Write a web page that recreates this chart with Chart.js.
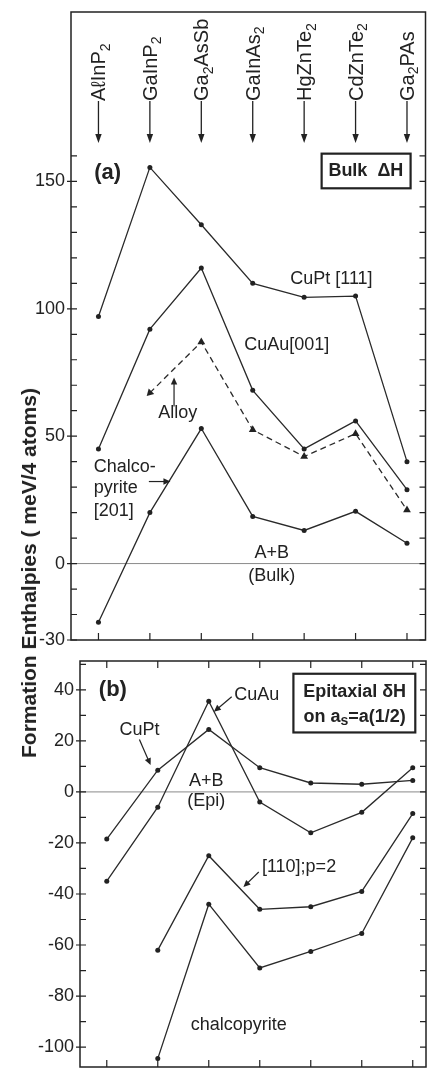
<!DOCTYPE html>
<html>
<head>
<meta charset="utf-8">
<script src="https://cdn.jsdelivr.net/npm/chart.js@4"></script>
<style>
  html, body { margin: 0; padding: 0; background: #fff; }
  #wrap { position: relative; width: 430px; height: 1071px; overflow: hidden; }
  #chartA { position: absolute; left: 0; top: 0; }
  #chartB { position: absolute; left: 0; top: 645px; }
  #ytitle {
    position: absolute; left: 29px; top: 573px;
    transform: translate(-50%, -50%) rotate(-90deg);
    white-space: nowrap; color: #222;
    font: bold 21px 'Liberation Sans', Arial, sans-serif;
  }
</style>
</head>
<body>
<div id="wrap">
  <canvas id="chartA" width="430" height="655"></canvas>
  <canvas id="chartB" width="430" height="426"></canvas>
  <div id="ytitle">Formation Enthalpies ( meV/4 atoms)</div>
</div>
<script>
// compounds along the x axis (digits are drawn as subscripts)
const compounds = ['AℓInP2', 'GaInP2', 'Ga2AsSb', 'GaInAs2', 'HgZnTe2', 'CdZnTe2', 'Ga2PAs'];

// (a) bulk formation enthalpies, meV / 4 atoms
const bulkCuPt = [97, 155.5, 133, 110, 104.5, 105, 40];
const bulkCuAu = [45, 92, 116, 68, 45, 56, 29];
const bulkAlloy = [null, 67, 87, 52.5, 42, 51, 21];
const bulkChalco = [-23, 20, 53, 18.5, 13, 20.5, 8];
const yLabelsA = [-30, 0, 50, 100, 150];

// (b) epitaxial formation enthalpies
const epiCuPt = [-18.5, 8.5, 24.5, 9.5, 3.5, 3, 4.5];
const epiCuAu = [-35, -6, 35.5, -4, -16, -8, 9.5];
const epi110 = [null, -62, -25, -46, -45, -39, -8.5];
const epiChalco = [null, -104.5, -44, -69, -62.5, -55.5, -18];
const yLabelsB = [-100, -80, -60, -40, -20, 0, 20, 40];

const FONT = "'Liberation Sans', Arial, sans-serif";
const INK = '#222';

const pts = arr => arr.map((v, i) => v === null ? null : { x: i, y: v }).filter(p => p);

function series(values, label, extra) {
    return Object.assign({
        label: label,
        data: pts(values),
        borderColor: '#2a2a2a',
        backgroundColor: '#222',
        borderWidth: 1.3,
        pointRadius: 2.5,
        pointBorderWidth: 0,
        tension: 0
    }, extra || {});
}

// split "Ga2AsSb" into runs, digits become subscripts
function runs(str) {
    return str.match(/\d+|\D+/g).map(s => [s, /\d/.test(s)]);
}

function drawRich(ctx, parts, x, y, size, align) {
    const main = `${size}px ${FONT}`;
    const sub = `${Math.round(size * 0.7)}px ${FONT}`;
    let w = 0;
    parts.forEach(([t, s]) => { ctx.font = s ? sub : main; w += ctx.measureText(t).width; });
    let cx = align === 'center' ? x - w / 2 : x;
    ctx.textAlign = 'left';
    ctx.textBaseline = 'alphabetic';
    parts.forEach(([t, s]) => {
        ctx.font = s ? sub : main;
        ctx.fillText(t, cx, s ? y + size * 0.22 : y);
        cx += ctx.measureText(t).width;
    });
}

function arrow(ctx, x1, y1, x2, y2, head) {
    const h = head || 7;
    const ang = Math.atan2(y2 - y1, x2 - x1);
    ctx.beginPath(); ctx.moveTo(x1, y1); ctx.lineTo(x2 - Math.cos(ang) * h * 0.8, y2 - Math.sin(ang) * h * 0.8); ctx.stroke();
    ctx.beginPath();
    ctx.moveTo(x2, y2);
    ctx.lineTo(x2 - h * Math.cos(ang) + 3.2 * Math.sin(ang), y2 - h * Math.sin(ang) - 3.2 * Math.cos(ang));
    ctx.lineTo(x2 - h * Math.cos(ang) - 3.2 * Math.sin(ang), y2 - h * Math.sin(ang) + 3.2 * Math.cos(ang));
    ctx.closePath(); ctx.fill();
}

// notes are placed in data coordinates
const notesA = [
    { t: 'text', x: 4.53, y: 111.7, s: 'CuPt [111]', size: 18 },
    { t: 'text', x: 3.66, y: 85.9, s: 'CuAu[001]', size: 18 },
    { t: 'text', x: 1.54, y: 59, s: 'Alloy', size: 18 },
    { t: 'arrow', x1: 1.47, y1: 61.7, x2: 1.47, y2: 73 },
    { t: 'text', x: -0.09, y: 37.9, s: 'Chalco-', size: 18, align: 'left' },
    { t: 'text', x: -0.09, y: 29.7, s: 'pyrite', size: 18, align: 'left' },
    { t: 'text', x: -0.09, y: 20.7, s: '[201]', size: 18, align: 'left' },
    { t: 'arrow', x1: 0.98, y1: 32.2, x2: 1.40, y2: 32.2 },
    { t: 'text', x: 3.37, y: 4.3, s: 'A+B', size: 18 },
    { t: 'text', x: 3.37, y: -4.7, s: '(Bulk)', size: 18 },
    { t: 'text', x: 0.18, y: 153.5, s: '(a)', size: 22, bold: true },
    { t: 'box', x1: 4.34, y1: 160.9, x2: 6.07, y2: 147.3 },
    { t: 'text', x: 5.2, y: 154, s: 'Bulk  ΔH', size: 18, bold: true }
];

const notesB = [
    { t: 'text', x: 0.12, y: 40, s: '(b)', size: 22, bold: true },
    { t: 'text', x: 2.94, y: 38, s: 'CuAu', size: 18 },
    { t: 'arrow', x1: 2.45, y1: 37.3, x2: 2.10, y2: 31.4 },
    { t: 'text', x: 0.64, y: 24.4, s: 'CuPt', size: 18 },
    { t: 'arrow', x1: 0.64, y1: 20.5, x2: 0.86, y2: 10.5 },
    { t: 'text', x: 1.95, y: 4.1, s: 'A+B', size: 18 },
    { t: 'text', x: 1.95, y: -3.7, s: '(Epi)', size: 18 },
    { t: 'box', x1: 3.66, y1: 46.3, x2: 6.05, y2: 23.3 },
    { t: 'text', x: 4.86, y: 39.2, s: 'Epitaxial δH', size: 18, bold: true },
    { t: 'rich', x: 4.86, y: 29.5, parts: [['on a', false], ['s', true], ['=a(1/2)', false]], size: 18, bold: true },
    { t: 'text', x: 3.77, y: -29.4, s: '[110];p=2', size: 18 },
    { t: 'arrow', x1: 2.98, y1: -31.4, x2: 2.68, y2: -37.3 },
    { t: 'text', x: 2.59, y: -91.4, s: 'chalcopyrite', size: 18 }
];

function deco(opts) {
    return {
        id: 'deco',
        beforeDatasetsDraw(chart) {
            const { ctx, chartArea: a, scales: { y } } = chart;
            const y0 = y.getPixelForValue(0);
            ctx.save();
            ctx.strokeStyle = '#8a8a8a';
            ctx.lineWidth = 1;
            ctx.beginPath(); ctx.moveTo(a.left, y0); ctx.lineTo(a.right, y0); ctx.stroke();
            ctx.restore();
        },
        afterDraw(chart) {
            const { ctx, chartArea: a, scales: { x, y } } = chart;
            ctx.save();
            ctx.strokeStyle = INK;
            ctx.fillStyle = INK;
            ctx.lineWidth = 1.5;
            ctx.strokeRect(a.left, a.top, a.right - a.left, a.bottom - a.top);

            // y ticks every 10, inward on both sides
            ctx.lineWidth = 1.2;
            for (let v = Math.ceil(y.min / 10) * 10; v <= Math.min(y.max, opts.tickMax); v += 10) {
                const py = y.getPixelForValue(v);
                const major = opts.yLabels.includes(v);
                ctx.beginPath();
                ctx.moveTo(a.left - (major ? 4 : 0), py); ctx.lineTo(a.left + 6, py);
                ctx.moveTo(a.right - 6, py); ctx.lineTo(a.right, py);
                ctx.stroke();
            }
            // x ticks at each compound
            compounds.forEach((c, i) => {
                const px = x.getPixelForValue(i);
                ctx.beginPath();
                ctx.moveTo(px, a.bottom); ctx.lineTo(px, a.bottom - 7);
                if (opts.topTicks) { ctx.moveTo(px, a.top); ctx.lineTo(px, a.top + 7); }
                ctx.stroke();
            });

            // compound names with arrows on top of panel (a)
            if (opts.names) {
                compounds.forEach((c, i) => {
                    const px = x.getPixelForValue(i);
                    ctx.save();
                    ctx.translate(px, 101);
                    ctx.rotate(-Math.PI / 2);
                    drawRich(ctx, runs(c), 0, 7, 20, 'left');
                    ctx.restore();
                    ctx.lineWidth = 1.3;
                    arrow(ctx, px, 101, px, 143, 9);
                });
            }

            opts.notes.forEach(n => {
                const weight = n.bold ? 'bold ' : '';
                if (n.t === 'text') {
                    ctx.font = `${weight}${n.size}px ${FONT}`;
                    ctx.textAlign = n.align || 'center';
                    ctx.textBaseline = 'middle';
                    ctx.fillText(n.s, x.getPixelForValue(n.x), y.getPixelForValue(n.y));
                } else if (n.t === 'rich') {
                    const parts = n.parts;
                    const px = x.getPixelForValue(n.x), py = y.getPixelForValue(n.y);
                    const main = `${weight}${n.size}px ${FONT}`;
                    const sub = `${weight}${Math.round(n.size * 0.75)}px ${FONT}`;
                    let w = 0;
                    parts.forEach(([t, s]) => { ctx.font = s ? sub : main; w += ctx.measureText(t).width; });
                    let cx = px - w / 2;
                    ctx.textAlign = 'left';
                    ctx.textBaseline = 'middle';
                    parts.forEach(([t, s]) => {
                        ctx.font = s ? sub : main;
                        ctx.fillText(t, cx, s ? py + 5 : py);
                        cx += ctx.measureText(t).width;
                    });
                } else if (n.t === 'arrow') {
                    ctx.lineWidth = 1.2;
                    arrow(ctx, x.getPixelForValue(n.x1), y.getPixelForValue(n.y1),
                        x.getPixelForValue(n.x2), y.getPixelForValue(n.y2));
                } else if (n.t === 'box') {
                    const x1 = x.getPixelForValue(n.x1), x2 = x.getPixelForValue(n.x2);
                    const y1 = y.getPixelForValue(n.y1), y2 = y.getPixelForValue(n.y2);
                    ctx.lineWidth = 2.2;
                    ctx.strokeRect(x1, y1, x2 - x1, y2 - y1);
                }
            });
            ctx.restore();
        }
    };
}

function yScale(min, max, labels, width) {
    return {
        type: 'linear',
        min: min,
        max: max,
        grid: { display: false, drawTicks: false },
        border: { display: false },
        ticks: {
            stepSize: 10,
            includeBounds: false,
            autoSkip: false,
            padding: 6,
            color: INK,
            font: { size: 18, family: FONT },
            callback: v => labels.includes(Math.round(v)) && Math.abs(v - Math.round(v)) < 1e-6 ? String(Math.round(v)) : ''
        },
        afterFit: s => { s.width = width; s.paddingTop = 0; s.paddingBottom = 0; }
    };
}

const common = {
    responsive: false,
    animation: false,
    plugins: { legend: { display: false }, tooltip: { enabled: false } }
};

new Chart(document.getElementById('chartA'), {
    type: 'line',
    data: {
        datasets: [
            series(bulkCuPt, 'CuPt [111]'),
            series(bulkCuAu, 'CuAu[001]'),
            series(bulkAlloy, 'Alloy', {
                borderDash: [6, 4],
                pointStyle: 'triangle',
                pointRadius: 4.5,
                pointRotation: c => c.dataIndex === 0 ? 225 : 0
            }),
            series(bulkChalco, 'Chalcopyrite [201]')
        ]
    },
    options: Object.assign({}, common, {
        layout: { padding: { top: 12, bottom: 15, left: 0, right: 4 } },
        scales: {
            x: { type: 'linear', display: false, min: -0.534, max: 6.36 },
            y: yScale(-30, 216.5, yLabelsA, 71)
        }
    }),
    plugins: [deco({ yLabels: yLabelsA, notes: notesA, names: true, topTicks: false, tickMax: 160 })]
});

new Chart(document.getElementById('chartB'), {
    type: 'line',
    data: {
        datasets: [
            series(epiCuPt, 'CuPt'),
            series(epiCuAu, 'CuAu'),
            series(epi110, '[110];p=2'),
            series(epiChalco, 'chalcopyrite')
        ]
    },
    options: Object.assign({}, common, {
        layout: { padding: { top: 16, bottom: 2, left: 0, right: 1 } },
        scales: {
            x: { type: 'linear', display: false, min: -0.525, max: 6.26 },
            y: yScale(-107.8, 51.3, yLabelsB, 80)
        }
    }),
    plugins: [deco({ yLabels: yLabelsB, notes: notesB, names: false, topTicks: true, tickMax: 1000 })]
});
</script>
</body>
</html>
